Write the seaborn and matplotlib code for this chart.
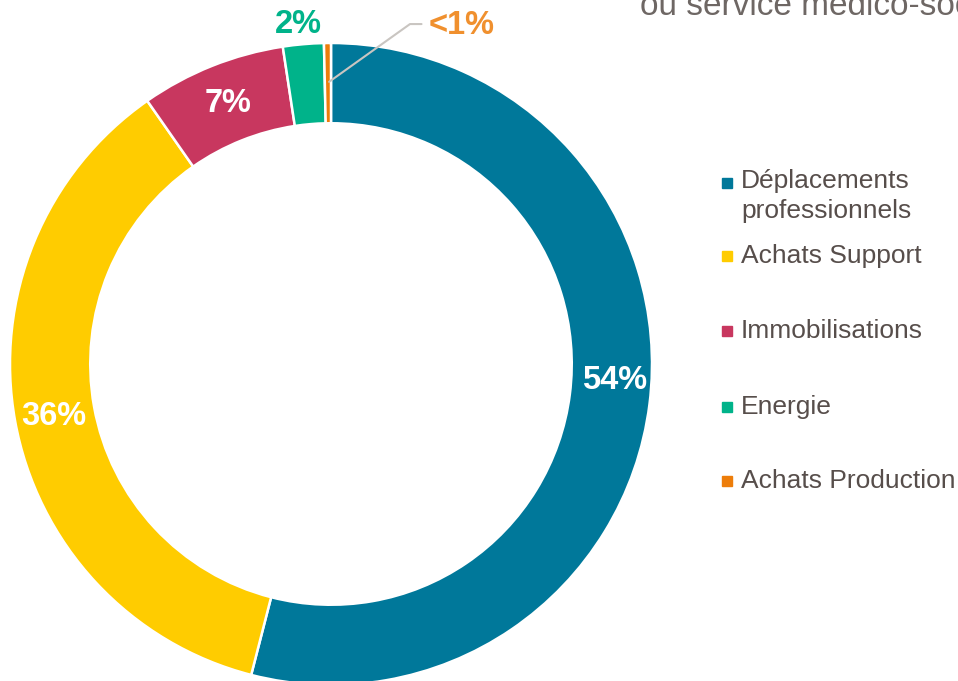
import numpy as np
import matplotlib
matplotlib.use("Agg")
import matplotlib.pyplot as plt
from matplotlib.patches import Rectangle
import seaborn as sns

# data
categories = ["Déplacements\nprofessionnels", "Achats Support", "Immobilisations",
              "Energie", "Achats Production"]
shares = [54.0, 36.3, 7.3, 2.05, 0.35]
pct_labels = ["54%", "36%", "7%", "2%", "<1%"]
hex_colors = ["#00789A", "#FFCC00", "#C8375F", "#00B38A", "#ED7D0A"]

sns.set_theme(style="white")
plt.rcParams['font.family'] = ['Liberation Sans', 'DejaVu Sans']
palette = sns.color_palette(hex_colors)

fig = plt.figure(figsize=(9.58, 6.81), dpi=100)
W, H = 958, 681
cx, cy, R = 331, 364, 321
ax = fig.add_axes([(cx - R) / W, (H - cy - R) / H, 2 * R / W, 2 * R / H])

ax.pie(shares, colors=palette, startangle=90, counterclock=False, radius=1,
       wedgeprops=dict(width=0.25, edgecolor="white", linewidth=1.8))
ax.set_xlim(-1, 1)
ax.set_ylim(-1, 1)
ax.axis("off")

# value labels
label_pos = [(0.882, -0.050), (-0.863, -0.162), (-0.321, 0.810),
             (-0.103, 1.059), (0.408, 1.053)]
label_colors = ["white", "white", "white", "#00B38A", "#F0902E"]
for txt, (x, y), c in zip(pct_labels, label_pos, label_colors):
    ax.text(x, y, txt, ha="center", va="center", fontsize=23.5,
            fontweight="bold", color=c, clip_on=False)

# leader line for the smallest slice
ax.plot([-0.006, 0.246, 0.282], [0.879, 1.059, 1.059], color="#C9C5C1",
        lw=1.5, clip_on=False)

# legend drawn by hand to follow the original spacing
text_color = "#574E4B"
legend_y = [183, 256, 331, 407, 481]
for lab, c, y in zip(categories, palette, legend_y):
    fig.add_artist(Rectangle((722 / W, 1 - (y + 5) / H), 10 / W, 10 / H,
                             transform=fig.transFigure, color=c))
    if "\n" in lab:
        fig.text(741 / W, 1 - (y - 14) / H, lab, ha="left", va="top",
                 fontsize=19, color=text_color, linespacing=1.3)
    else:
        fig.text(741 / W, 1 - y / H, lab, ha="left", va="center",
                 fontsize=19, color=text_color)

# clipped title line at the top
fig.text(640 / W, 1 - 15 / H, "ou service médico-social", ha="left", va="baseline",
         fontsize=24, color="#6E6764")

fig.savefig("out.png", dpi=100)
